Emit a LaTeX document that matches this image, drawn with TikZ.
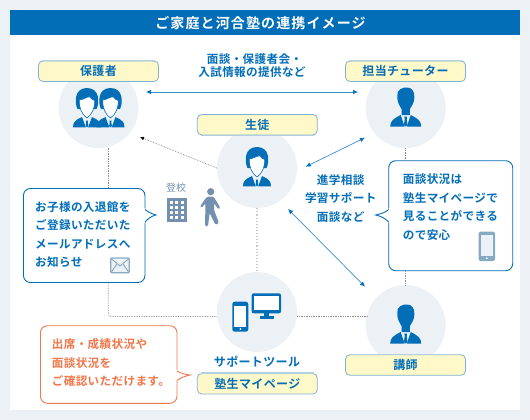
\documentclass[tikz,border=0pt]{standalone}
\usepackage{fontspec}
\setmainfont{Noto Sans CJK JP}[BoldFont={Noto Sans CJK JP Bold}]
\newfontfamily\jp{Noto Sans CJK JP}[LetterSpace=3,BoldFont={Noto Sans CJK JP Bold}]
\newfontfamily\jpt{Noto Sans CJK JP}[LetterSpace=8,BoldFont={Noto Sans CJK JP Bold}]
\usetikzlibrary{arrows.meta}
\definecolor{pagebg}{HTML}{ECF1F6}
\definecolor{kblue}{HTML}{036EB8}
\definecolor{lblborder}{HTML}{7FB2D3}
\definecolor{lblaccent}{HTML}{B2D0E4}
\definecolor{lblfill}{HTML}{FFF9C9}
\definecolor{arrowblue}{HTML}{3C8FCB}
\definecolor{dotgray}{HTML}{8C8C8C}
\definecolor{orangec}{HTML}{F0774A}
\definecolor{slate}{HTML}{7490B0}
\definecolor{iconb}{HTML}{86AAC2}
\tikzset{
  circ/.style={circle,fill=pagebg,minimum size=80pt,inner sep=0pt},
  lbl/.style={rectangle,rounded corners=4.5pt,draw=lblborder,line width=0.8pt,fill=lblfill,minimum width=120pt,minimum height=20.5pt,inner sep=0pt,text=kblue,font=\fontsize{12}{14}\selectfont\jp\bfseries},
  acc/.style={lblaccent,line width=1.4pt},
  bub/.style={rectangle,rounded corners=7pt,draw=kblue,line width=0.9pt,fill=white,inner sep=0pt},
  bubo/.style={rectangle,rounded corners=7pt,draw=orangec,line width=0.9pt,fill=white,inner sep=0pt},
  txt/.style={text=kblue,inner sep=0pt,align=left,anchor=north west,font=\fontsize{11.6}{18.6}\selectfont\jp\bfseries},
  ctxt/.style={text=kblue,inner sep=0pt,align=center,font=\fontsize{11.6}{18.6}\selectfont\jp\bfseries},
  dotl/.style={dotgray,densely dotted,line width=0.7pt},
  twoway/.style={arrowblue,line width=0.7pt,{Latex[length=5pt,width=4.5pt,kblue]}-{Latex[length=5pt,width=4.5pt,kblue]}},
  man/.pic={
    \fill[kblue] (-8.4,-12) .. controls (-9.5,-18) and (-3,-21) .. (1,-20.5) .. controls (6,-21) and (9.5,-16) .. (8.6,-10) .. controls (8.8,-6) and (6,-2) .. (4.2,1) -- (4.2,7) -- (-4.2,7) -- (-4.2,1) .. controls (-6,-2) and (-8.8,-6) .. (-8.4,-12) -- cycle;
    \fill[kblue] (-15.5,18.5) .. controls (-15.5,13) and (-12,10.5) .. (-5,7) -- (-1.2,18.5) -- cycle;
    \fill[kblue] (15.5,18.5) .. controls (15.5,13) and (12,10.5) .. (5,7) -- (1.2,18.5) -- cycle;
    \fill[kblue] (-1.5,8.5) -- (1.5,8.5) -- (1,11) -- (1.8,17) -- (0,18.5) -- (-1.8,17) -- (-1,11) -- cycle;
  },
  kid/.pic={
    \fill[kblue] (-9.5,0) .. controls (-12.5,-6) and (-13,-21) .. (0,-21) .. controls (13,-21) and (12.5,-6) .. (9.5,0) -- cycle;
    \filldraw[fill=white,draw=kblue,line width=0.6pt] (-7.8,-9) .. controls (-3,-9.5) and (1,-13) .. (3,-12) .. controls (4,-10) and (6,-9) .. (7.8,-8.5) .. controls (8.3,-2) and (5,6) .. (0,9) .. controls (-5,6) and (-8.3,-2) .. (-7.8,-9) -- cycle;
    \fill[kblue] (-14,18.3) .. controls (-14,13) and (-11.5,11) .. (-5,8) -- (-1.2,18.3) -- cycle;
    \fill[kblue] (14,18.3) .. controls (14,13) and (11.5,11) .. (5,8) -- (1.2,18.3) -- cycle;
    \fill[kblue] (-1.1,11.5) -- (1.1,11.5) -- (0.8,13.5) -- (1.4,17) -- (0,18.3) -- (-1.4,17) -- (-0.8,13.5) -- cycle;
  },
}
\begin{document}
\begin{tikzpicture}[x=1pt,y=-1pt]
\useasboundingbox (0,0) rectangle (530,420);
\fill[pagebg] (0,0) rectangle (530,420);
\fill[white] (10,10) rectangle (520,410);
\fill[kblue] (10,10) rectangle (520,35.5);
\node[text=white,inner sep=0pt,font=\fontsize{14}{16}\selectfont\jpt\bfseries] (title) at (260.5,23) {ご家庭と河合塾の連携イメージ};

% circles
\node[circ] (parent) at (98.5,108) {};
\node[circ] (tutor) at (405.7,108) {};
\node[circ] (student) at (257,168) {};
\node[circ] (tools) at (257,312) {};
\node[circ] (teacher) at (405.7,325) {};

% bubbles
\node[bub,minimum width=121.5pt,minimum height=94pt] (bubL) at (84.2,235.5) {};
\node[bub,minimum width=124pt,minimum height=110pt] (bubR) at (450.7,215.7) {};
\node[bubo,minimum width=136.5pt,minimum height=77.6pt] (bubO) at (108.7,364.5) {};

% dotted connectors
\coordinate (pOut) at (108.3,147.5);
\coordinate (pTurn) at (108.3,316.5);
\draw[dotl] (pOut) -- (pOut |- bubL.north);
\draw[dotl,rounded corners=3pt] (pOut |- bubL.south) -- (pTurn) -- (tools.west |- pTurn);
\draw[dotl] (tools.east |- pTurn) -- (367,316.5);
\draw[dotl] (tutor.south) -- (tutor.south |- bubR.north);
\draw[dotl] (tutor.south |- bubR.south) -- (teacher.north);
\draw[pagebg!60!dotgray,dotted,line width=1.1pt] (student.south) -- (tools.north);
\coordinate (pTip) at (140,137);
\draw[dotl,-{Latex[length=4pt,width=4pt,black]}] (student.west) -- (pTip);

% two-way arrows
\coordinate (a1) at (146,92);
\coordinate (a2) at (358,92);
\coordinate (b1) at (305.7,166.7);
\coordinate (b2) at (365,137.7);
\coordinate (c1) at (288,209);
\coordinate (c2) at (365,286.7);
\draw[twoway] (a1) -- (a2);
\draw[twoway] (b1) -- (b2);
\draw[twoway] (c1) -- (c2);

% bubble tails
\fill[white] (144,208) -- (156,215) -- (144,223) -- cycle;
\draw[kblue,line width=0.9pt] (145,209.5) .. controls (148,212) and (152,214) .. (156,215) .. controls (151,216) and (148,219) .. (145,222);
\fill[white] (390,208) -- (375.7,215) -- (390,223) -- cycle;
\draw[kblue,line width=0.9pt] (388.7,209.5) .. controls (386,212) and (381,214) .. (375.7,215) .. controls (381,216) and (386,219) .. (388.7,222);
\fill[white] (176,370) -- (190,375) -- (176,381) -- cycle;
\draw[orangec,line width=0.9pt] (177,371) .. controls (180,373) and (185,374.5) .. (190,375) .. controls (185,376) and (180,378) .. (177,380.5);

% labels
\node[lbl] (lparent) at (98.5,71.2) {保護者};
\node[lbl] (ltutor) at (405.5,71.2) {担当チューター};
\node[lbl] (lstudent) at (257.3,124.7) {生徒};
\node[lbl] (lteacher) at (405.5,365) {講師};
\node[lbl] (ljuku) at (257.3,383.8) {塾生マイページ};
\draw[acc] ([xshift=4pt]lparent.north west) -- ([xshift=-4pt]lparent.north east);
\draw[acc] ([xshift=4pt]ltutor.north west) -- ([xshift=-4pt]ltutor.north east);
\draw[acc] ([xshift=4pt]lstudent.south west) -- ([xshift=-4pt]lstudent.south east);
\draw[acc] ([xshift=4pt]lteacher.north west) -- ([xshift=-4pt]lteacher.north east);
\draw[acc] ([xshift=4pt]ljuku.north west) -- ([xshift=-4pt]ljuku.north east);

% texts
\node[ctxt,font=\fontsize{11.6}{13.6}\selectfont\jp\bfseries] (tTop) at (252,65.5) {\hspace*{5pt}面談・保護者会・\\入試情報の提供など};
\node[ctxt] (tMid) at (340.7,198.5) {進学相談\\学習サポート\\面談など};
\node[txt] (tL) at (35,201) {お子様の入退館を\\ご登録いただいた\\メールアドレスへ\\お知らせ};
\node[txt] (tR) at (402.7,173.5) {面談状況は\\塾生マイページで\\見ることができる\\ので安心};
\node[txt,text=orangec] (tO) at (51.7,338.5) {出席・成績状況や\\面談状況を\\ご確認いただけます。};
\node[ctxt,font=\fontsize{12}{14}\selectfont\jp\bfseries] (tTools) at (257,361.7) {サポートツール};
\node[inner sep=0pt,text=slate,font=\fontsize{10}{11}\selectfont] (tGo) at (176,188) {登校};

% person icons
\pic at (405.7,108) {man};
\pic at (405.7,325) {man};
\pic at (257,168) {kid};
\pic at (87,109) {kid};
\pic at (110.5,109) {kid};

% building
\fill[slate] (166.7,198) rectangle (186.7,221.7);
\foreach \cx in {169.7,175.2,180.7}
  \foreach \cy in {201,206,211,216}
    \fill[white] (\cx,\cy) rectangle +(3.2,3);
% walker
\fill[slate] (210.7,191.7) circle (3.6pt);
\fill[slate,rounded corners=1.5pt] (207,196.5) -- (213.5,196.5) -- (220.5,208) -- (218.5,209.5) -- (214,203) -- (214,210) -- (219,223) -- (215.5,225) -- (209.5,213) -- (208,226.5) -- (205,226.5) -- (205.5,203) -- (201.5,208) -- (200,206.5) -- cycle;

% mail icon
\draw[iconb,line width=1.2pt,fill=pagebg,rounded corners=1pt] (110.8,258) rectangle (129.2,272.8);
\draw[iconb,line width=0.9pt] (111,258.5) -- (120,266) -- (129,258.5);
\draw[iconb,line width=0.9pt] (111,272.5) -- (117,264);
\draw[iconb,line width=0.9pt] (129,272.5) -- (123,264);

% grey phone
\fill[iconb,rounded corners=2pt] (478.7,231.7) rectangle (495,261);
\fill[pagebg] (480.6,234.5) rectangle (493.1,255.5);
\fill[white] (486.9,258.2) circle (1pt);

% devices
\fill[kblue,rounded corners=2.5pt] (232.3,301.7) rectangle (248.3,331.7);
\fill[white] (234.3,305.5) rectangle (246.3,326.5);
\fill[white] (240.3,329) circle (1pt);
\fill[kblue,rounded corners=2pt] (251.7,293.3) rectangle (281,313.3);
\fill[white] (254,295.5) rectangle (278.7,310.2);
\fill[kblue] (264,313) rectangle (268.7,317);
\fill[kblue] (260,316.3) rectangle (274,318.6);
\end{tikzpicture}
\end{document}
